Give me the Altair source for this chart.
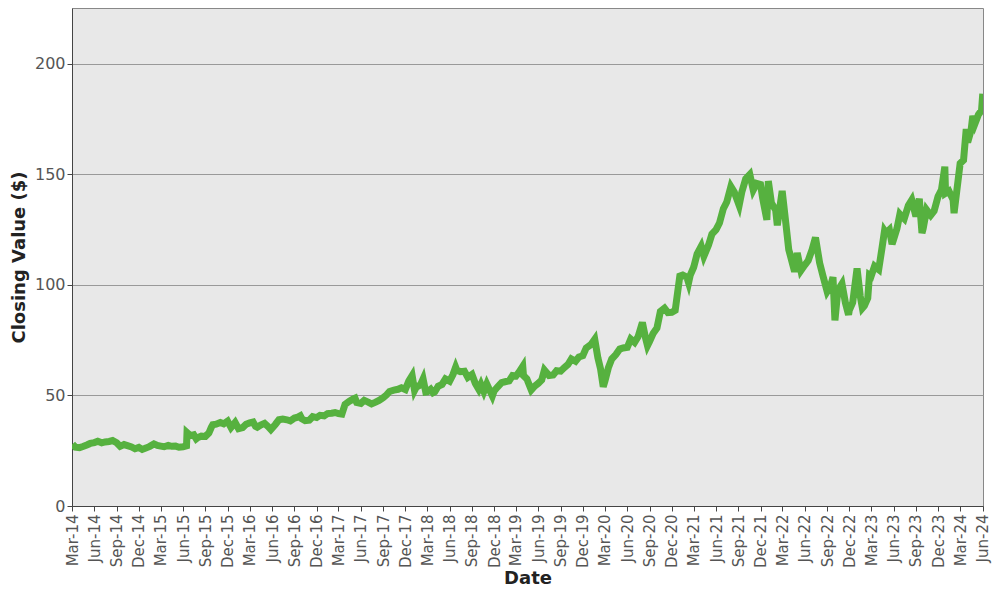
import altair as alt
import pandas as pd

dates = [
    "2014-03-03","2014-03-15","2014-04-01","2014-04-15","2014-05-01","2014-05-15","2014-06-01","2014-06-15",
    "2014-07-01","2014-07-15","2014-08-01","2014-08-15","2014-09-01","2014-09-15","2014-10-01","2014-10-15",
    "2014-11-01","2014-11-15","2014-12-01","2014-12-15",
    "2015-01-01","2015-01-15","2015-02-01","2015-02-15","2015-03-01","2015-03-15","2015-04-01","2015-04-15",
    "2015-05-01","2015-05-15","2015-06-01","2015-06-15","2015-06-17","2015-07-01","2015-07-15","2015-07-25",
    "2015-08-01","2015-08-15","2015-09-01","2015-09-15","2015-09-25","2015-10-01","2015-10-15","2015-11-01",
    "2015-11-15","2015-12-01","2015-12-15",
    "2016-01-01","2016-01-15","2016-02-01","2016-02-15","2016-03-01","2016-03-15","2016-03-25","2016-04-01",
    "2016-04-15","2016-05-01","2016-05-15","2016-05-27","2016-06-01","2016-06-15","2016-06-29","2016-07-15",
    "2016-08-01","2016-08-15","2016-09-01","2016-09-15","2016-09-25","2016-10-01","2016-10-15","2016-11-01",
    "2016-11-15","2016-12-01","2016-12-15",
    "2017-01-01","2017-01-15","2017-02-01","2017-02-15","2017-03-01","2017-03-15","2017-03-28","2017-04-15",
    "2017-05-01","2017-05-08","2017-05-15","2017-06-01","2017-06-15","2017-07-01","2017-07-15","2017-08-01",
    "2017-08-15","2017-09-01","2017-09-15","2017-09-27","2017-10-15","2017-11-01","2017-11-15","2017-12-01",
    "2017-12-15","2017-12-29",
    "2018-01-08","2018-01-15","2018-02-01","2018-02-12","2018-02-23","2018-03-01","2018-03-15","2018-03-25",
    "2018-04-01","2018-04-15","2018-05-01","2018-05-15","2018-06-01","2018-06-15","2018-06-26","2018-07-01",
    "2018-07-15","2018-08-01","2018-08-15","2018-09-01","2018-09-15","2018-09-29","2018-10-08","2018-10-20",
    "2018-11-01","2018-11-24","2018-12-01","2018-12-15",
    "2019-01-01","2019-01-15","2019-02-01","2019-02-15","2019-03-01","2019-03-15","2019-03-29","2019-04-01",
    "2019-04-15","2019-05-03","2019-05-15","2019-06-01","2019-06-15","2019-06-26","2019-07-15","2019-08-01",
    "2019-08-15","2019-09-01","2019-09-15","2019-10-01","2019-10-15","2019-11-01","2019-11-15","2019-12-01",
    "2019-12-15",
    "2020-01-03","2020-01-19","2020-02-01","2020-02-12","2020-02-23","2020-03-01","2020-03-15","2020-03-29",
    "2020-04-15","2020-05-01","2020-05-15","2020-06-01","2020-06-15","2020-07-01","2020-07-15","2020-08-02",
    "2020-08-15","2020-08-23","2020-09-01","2020-09-15","2020-10-01","2020-10-15","2020-11-01","2020-11-15",
    "2020-12-01","2020-12-15",
    "2021-01-03","2021-01-15","2021-02-01","2021-02-08","2021-02-15","2021-03-01","2021-03-15","2021-04-01",
    "2021-04-12","2021-05-01","2021-05-15","2021-06-01","2021-06-15","2021-07-01","2021-07-15","2021-08-01",
    "2021-08-15","2021-09-04","2021-09-15","2021-10-01","2021-10-18","2021-11-01","2021-11-15","2021-12-01",
    "2021-12-10","2021-12-27",
    "2022-01-02","2022-01-15","2022-02-01","2022-02-08","2022-02-28","2022-03-15","2022-03-27","2022-04-01",
    "2022-04-20","2022-05-01","2022-05-16","2022-06-01","2022-06-15","2022-07-01","2022-07-15","2022-08-01",
    "2022-08-15","2022-09-01","2022-09-15","2022-09-25","2022-10-03","2022-10-15","2022-11-01","2022-11-15",
    "2022-11-28","2022-12-01","2022-12-15",
    "2023-01-02","2023-01-15","2023-01-24","2023-02-01","2023-02-15","2023-02-22","2023-03-01","2023-03-15",
    "2023-04-01","2023-04-15","2023-04-25","2023-05-01","2023-05-15","2023-05-26","2023-06-01","2023-06-15",
    "2023-06-27","2023-07-01","2023-07-15","2023-08-01","2023-08-15","2023-09-01","2023-09-15","2023-09-26",
    "2023-10-01","2023-10-15","2023-11-01","2023-11-15","2023-12-01","2023-12-15","2023-12-29",
    "2024-01-01","2024-01-15","2024-02-01","2024-02-05","2024-02-15","2024-03-01","2024-03-15","2024-03-26",
    "2024-04-01","2024-04-15","2024-04-22","2024-05-01","2024-05-15","2024-05-28","2024-06-02",
]

values = [
    28.0,26.6,26.4,26.9,27.6,28.3,28.7,29.3,
    28.6,29.0,29.2,29.6,28.6,27.0,27.8,27.3,
    26.7,25.9,26.5,25.6,
    26.3,27.0,28.1,27.4,27.1,26.8,27.4,27.0,
    27.1,26.6,26.8,27.2,33.2,31.8,32.2,30.4,
    31.0,31.6,31.5,33.0,35.6,36.8,37.0,37.8,
    37.2,38.4,35.5,
    37.8,35.0,35.5,37.0,37.6,38.0,36.0,35.6,
    36.6,37.4,36.0,34.6,35.2,37.0,39.0,39.3,
    39.0,38.5,39.8,40.2,40.8,39.5,38.6,38.8,
    40.4,40.0,41.0,
    40.8,41.8,42.0,42.3,41.8,41.6,46.0,47.4,
    48.5,48.8,46.8,46.4,47.8,47.0,46.2,47.0,
    47.8,49.0,50.3,51.8,52.4,52.8,53.5,52.7,
    56.5,59.0,
    52.3,53.8,54.8,57.5,51.5,51.6,52.8,51.2,
    51.6,54.2,55.0,57.5,56.5,59.5,62.8,61.4,
    60.8,61.0,58.2,59.5,55.4,52.8,55.0,51.8,
    55.2,49.8,52.0,53.8,
    55.8,56.2,56.6,59.0,58.8,60.8,63.2,59.0,
    57.5,52.5,54.0,55.5,57.0,61.5,59.0,59.3,
    61.2,61.0,62.5,64.0,66.5,65.5,67.4,68.0,
    71.5,
    73.0,75.5,67.0,62.0,54.0,56.5,62.5,66.5,
    68.5,71.0,71.5,71.8,75.5,74.0,76.5,83.0,
    76.0,72.5,74.5,78.0,80.5,88.0,89.5,87.5,
    87.6,88.5,
    104.0,104.5,103.5,101.0,104.5,108.0,114.0,117.5,
    113.0,118.0,123.0,125.0,128.0,134.5,137.5,144.5,
    142.0,136.0,142.0,148.0,150.0,143.0,146.0,145.5,
    139.0,129.5,
    147.0,137.0,134.0,127.0,142.5,128.0,116.0,114.0,
    106.0,114.5,106.5,109.0,111.0,116.0,121.5,110.0,
    104.0,97.0,99.5,103.5,84.0,97.5,100.5,92.0,
    86.5,88.5,92.0,
    107.5,95.0,89.5,90.5,94.0,104.5,104.0,108.5,
    107.0,117.0,124.5,123.5,125.0,118.5,120.5,125.5,
    132.0,131.5,130.0,136.0,138.5,131.0,139.0,123.5,
    125.5,134.0,131.5,133.5,140.0,143.0,153.5,
    141.5,142.5,138.5,132.5,141.5,155.0,156.5,170.5,
    164.5,170.0,176.5,173.0,177.0,179.0,186.5,
]

# Quarterly tick positions: Mar-14 ... Jun-24
ticks = []
y, m = 2014, 3
while (y, m) <= (2024, 6):
    ticks.append(alt.DateTime(year=y, month=m, date=1))
    m += 3
    if m > 12:
        m -= 12
        y += 1

df = pd.DataFrame({"Date": [d + "T00:00:00" for d in dates], "Close": values})

chart = (
    alt.Chart(df)
    .mark_line(color="#56b13f", strokeWidth=7, strokeCap="butt", strokeJoin="miter", clip=True)
    .encode(
        x=alt.X(
            "Date:T",
            title="Date",
            scale=alt.Scale(domain=[alt.DateTime(year=2014, month=3, date=1),
                                    alt.DateTime(year=2024, month=6, date=3)]),
            axis=alt.Axis(
                values=ticks,
                format="%b-%y",
                labelAngle=-90,
                labelFontSize=15,
                labelColor="#555555",
                labelFont="DejaVu Sans",
                grid=False,
                tickColor="#444444",
                tickSize=5,
                domainColor="#444444",
                titleFont="DejaVu Sans",
                titleFontSize=18,
                titleFontWeight="bold",
                titleColor="#222222",
                titlePadding=2,
                labelOverlap=False,
                labelPadding=3,
                labelBound=False,
            ),
        ),
        y=alt.Y(
            "Close:Q",
            title="Closing Value ($)",
            scale=alt.Scale(domain=[0, 225.3], nice=False, zero=True),
            axis=alt.Axis(
                values=[0, 50, 100, 150, 200],
                labelFontSize=16,
                labelColor="#555555",
                labelFont="DejaVu Sans",
                grid=True,
                gridColor="#999999",
                gridWidth=1,
                tickColor="#444444",
                tickSize=5,
                domainColor="#444444",
                titleFont="DejaVu Sans",
                titleFontSize=18,
                titleFontWeight="bold",
                titleColor="#222222",
                titlePadding=6,
            ),
        ),
    )
    .properties(
        width=911,
        height=498,
        autosize=alt.AutoSizeParams(type="none"),
        padding={"left": 64, "top": 0, "right": 9, "bottom": 84},
    )
    .configure_view(fill="#e8e8e8", stroke="#888888", strokeWidth=1)
)

chart.save("out.html", embed_options={"renderer": "svg", "actions": False})
